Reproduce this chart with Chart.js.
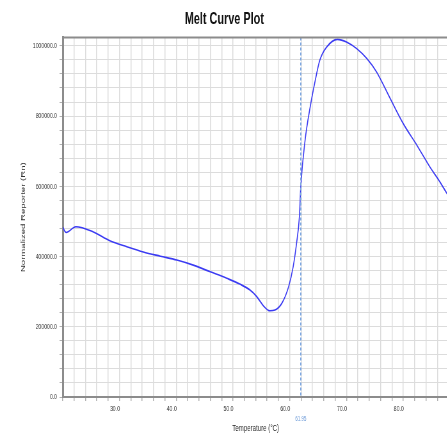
<!DOCTYPE html>
<html lang="en">
<head>
  <meta charset="UTF-8">
  <title>Melt Curve Plot</title>
  <style>
    html, body {
      margin: 0;
      padding: 0;
      background: #fff;
      overflow: hidden;
    }

    /* the source picture is squeezed sideways, so the whole chart is drawn wide and scaled back */
    .wrap {
      width: 766px;
      height: 435px;
      transform: scaleX(0.64);
      transform-origin: 0 0;
    }
  </style>
</head>
<body>
  <div class="wrap">
    <canvas id="melt-chart" width="766" height="435"></canvas>
  </div>

  <script src="https://cdn.jsdelivr.net/npm/chart.js"></script>
  <script>
    // temperature (°C) and normalized reporter (Rn)
    const temps = [20.0, 20.6, 22.3, 25.4, 28.3, 31.3, 34.2, 37.2, 40.1, 43.0, 46.0, 48.9, 51.2, 53.0,
      54.2, 55.4, 56.5, 57.4, 58.6, 59.8, 60.6, 61.2, 61.7, 61.95, 62.7, 63.6, 64.5, 65.3, 66.5, 68.4,
      70.0, 71.8, 73.6, 75.3, 77.7, 80.0, 82.4, 84.7, 86.2, 87.7, 88.0];
    const rnValues = [483000, 468500, 485000, 470000, 445000, 428000, 413000, 401000, 390000, 375500,
      356500, 338000, 321500, 304500, 285500, 259000, 245500, 247500, 266500, 314000, 370500, 437500,
      513000, 600000, 731000, 826000, 902000, 959000, 996500, 1018500, 1011000, 992000, 963500, 925500,
      850000, 778500, 717000, 655000, 619000, 579500, 572000];

    const xRange = [20, 88];
    const yRange = [0, 1024000];
    const xGridStep = 2;
    const yGridStep = 40000;
    const xLabelEvery = 10;
    const yLabelEvery = 200000;

    const markerTemp = 61.95;
    const markerLabel = '61.95';

    const fontFamily = "'Liberation Sans', Arial, sans-serif";

    const points = temps.map((t, i) => ({ x: t, y: rnValues[i] }));

    // top frame line, dashed marker line and its value under the axis
    const extrasPlugin = {
      id: 'extras',
      afterDatasetsDraw(chart) {
        const { ctx, chartArea, scales } = chart;
        const mx = scales.x.getPixelForValue(markerTemp);

        ctx.save();
        ctx.strokeStyle = '#7ea7e0';
        ctx.lineWidth = 2;
        ctx.setLineDash([3, 2]);
        ctx.beginPath();
        ctx.moveTo(mx, chartArea.top);
        ctx.lineTo(mx, chartArea.bottom);
        ctx.stroke();
        ctx.setLineDash([]);

        ctx.strokeStyle = '#8c8c8c';
        ctx.lineWidth = 2;
        ctx.beginPath();
        ctx.moveTo(chartArea.left, chartArea.top);
        ctx.lineTo(chart.width, chartArea.top);
        ctx.stroke();

        ctx.fillStyle = '#6c9ad8';
        ctx.font = '7px ' + fontFamily;
        ctx.textAlign = 'center';
        ctx.textBaseline = 'middle';
        ctx.fillText(markerLabel, mx, 419);
        ctx.restore();
      }
    };

    const ctx = document.getElementById('melt-chart').getContext('2d');
    new Chart(ctx, {
      type: 'line',
      data: {
        datasets: [{
          label: 'Rn',
          data: points,
          borderColor: '#3b3bf2',
          borderWidth: 1.6,
          pointRadius: 0,
          fill: false,
          cubicInterpolationMode: 'monotone'
        }]
      },
      options: {
        responsive: false,
        animation: false,
        layout: {
          padding: { left: 0, right: 65, top: 0, bottom: 1 }
        },
        plugins: {
          legend: { display: false },
          tooltip: { enabled: false },
          title: {
            display: true,
            text: 'Melt Curve Plot',
            color: '#111',
            font: { family: fontFamily, size: 17, weight: 'bold' },
            padding: { top: 9, bottom: 8 }
          }
        },
        scales: {
          x: {
            type: 'linear',
            min: xRange[0],
            max: xRange[1],
            afterBuildTicks(scale) {
              const ticks = [];
              for (let v = xRange[0]; v <= xRange[1]; v += xGridStep) ticks.push({ value: v });
              scale.ticks = ticks;
            },
            afterFit(scale) {
              scale.height = 37;
            },
            grid: { color: '#dcdcdc', lineWidth: 1.5, tickLength: 4, tickColor: '#b0b0b0' },
            border: { color: '#8c8c8c', width: 2 },
            ticks: {
              autoSkip: false,
              maxRotation: 0,
              padding: 3,
              labelOffset: -7,
              color: '#333',
              font: { family: fontFamily, size: 8 },
              callback: v => (v > xRange[0] && v % xLabelEvery === 0 ? v.toFixed(1) : '')
            },
            title: {
              display: true,
              text: 'Temperature (°C)',
              color: '#222',
              font: { family: fontFamily, size: 9.5 },
              padding: { top: 0, bottom: 0 }
            }
          },
          y: {
            min: yRange[0],
            max: yRange[1],
            afterBuildTicks(scale) {
              const ticks = [];
              for (let v = yRange[0]; v <= yRange[1]; v += yGridStep) ticks.push({ value: v });
              scale.ticks = ticks;
            },
            afterFit(scale) {
              scale.width = 98;
            },
            grid: { color: '#dcdcdc', lineWidth: 1, tickLength: 5, tickColor: '#b0b0b0' },
            border: { color: '#8c8c8c', width: 3 },
            ticks: {
              autoSkip: false,
              padding: 4,
              color: '#333',
              font: { family: fontFamily, size: 8 },
              callback: v => (v % yLabelEvery === 0 ? v.toFixed(1) : '')
            },
            title: {
              display: true,
              text: 'Normalized Reporter (Rn)',
              color: '#333',
              font: { family: fontFamily, size: 9.6 },
              padding: { top: 31, bottom: 0 }
            }
          }
        }
      },
      plugins: [extrasPlugin]
    });
  </script>
</body>
</html>
